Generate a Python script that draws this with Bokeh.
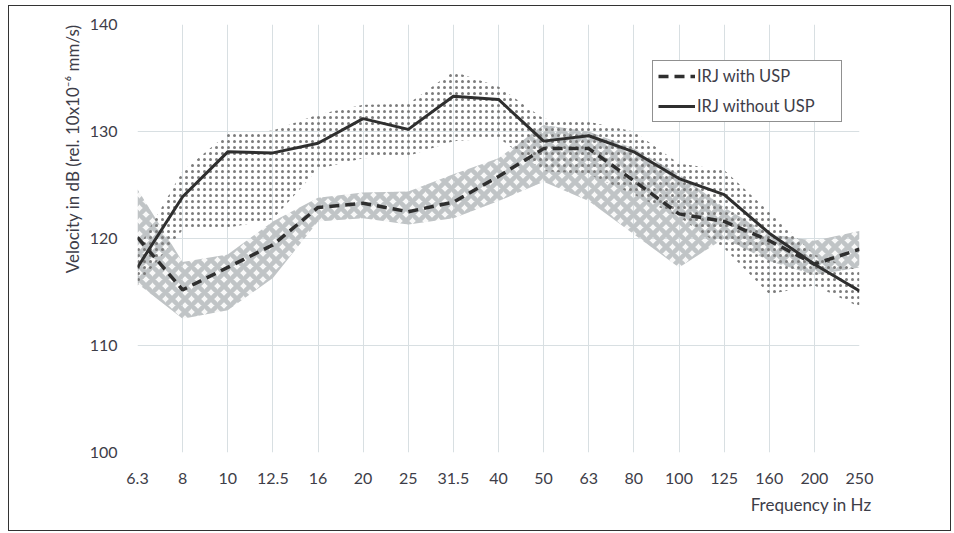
from bokeh.plotting import figure
from bokeh.models import Range1d, FixedTicker, Legend, LegendItem, Title
from bokeh.embed import file_html
from bokeh.resources import INLINE

freqs = ["6.3", "8", "10", "12.5", "16", "20", "25", "31.5", "40", "50",
         "63", "80", "100", "125", "160", "200", "250"]

with_usp = [120.1, 115.2, 117.3, 119.4, 122.9, 123.3, 122.5, 123.4, 125.8, 128.4,
            128.4, 125.4, 122.3, 121.6, 119.8, 117.6, 119.0]
without_usp = [117.3, 123.9, 128.1, 128.0, 128.9, 131.2, 130.2, 133.3, 133.0, 129.1,
               129.6, 128.1, 125.6, 124.1, 120.5, 117.6, 115.1]

without_upper = [119.0, 126.3, 129.8, 130.1, 131.6, 132.5, 132.6, 135.6, 134.2, 131.2,
                 130.9, 130.0, 127.0, 126.4, 122.5, 118.5, 117.0]
without_lower = [115.6, 120.8, 121.0, 121.8, 126.5, 127.5, 127.7, 129.1, 129.4, 126.3,
                 126.0, 124.1, 122.0, 119.1, 114.8, 115.6, 113.6]

with_upper = [124.6, 117.8, 118.5, 121.6, 123.8, 124.3, 124.4, 126.0, 127.5, 130.6,
              130.0, 128.4, 126.0, 122.9, 120.4, 119.8, 120.7]
with_lower = [115.8, 112.5, 113.3, 116.3, 121.6, 121.9, 121.3, 121.9, 123.5, 125.3,
              123.5, 120.4, 117.3, 120.0, 117.9, 116.6, 117.3]

y_ticks = [100, 110, 120, 130, 140]

FONT = "Lato"
TXT = "#3d3d48"

x = list(range(len(freqs)))

p = figure(width=943, height=526, x_range=Range1d(0, len(freqs) - 1), y_range=Range1d(100, 140),
           output_backend="svg", toolbar_location=None,
           min_border_left=128, min_border_right=93, min_border_top=18, min_border_bottom=80)
p.margin = (5, 0, 0, 8)
p.outline_line_color = None
p.background_fill_color = "white"
p.border_fill_color = "white"
p.styles = {"border": "1.5px solid #333333", "box-sizing": "border-box"}

# grid
p.xgrid.ticker = FixedTicker(ticks=x)
p.ygrid.ticker = FixedTicker(ticks=y_ticks)
for g in (p.xgrid, p.ygrid):
    g.grid_line_color = "#d8dfe2"
    g.grid_line_width = 1

# axes
p.xaxis.ticker = FixedTicker(ticks=x)
p.xaxis.major_label_overrides = {i: f for i, f in enumerate(freqs)}
p.yaxis.ticker = FixedTicker(ticks=y_ticks)
for ax in (p.xaxis, p.yaxis):
    ax.axis_line_color = None
    ax.major_tick_line_color = None
    ax.minor_tick_line_color = None
    ax.major_label_text_font = FONT
    ax.major_label_text_font_size = "16px"
    ax.major_label_text_color = TXT
p.xaxis.major_label_standoff = 14
p.yaxis.major_label_standoff = 14

yt = Title(text="Velocity in dB (rel. 10x10\u207b\u2076 mm/s)", align="right", text_font=FONT,
           text_font_size="17px", text_color=TXT, text_font_style="normal", standoff=8, offset=0)
p.add_layout(yt, "left")

xt = Title(text="Frequency in Hz", align="right", text_font=FONT, text_font_size="17px",
           text_color=TXT, text_font_style="normal", offset=-12)
p.add_layout(xt, "below")

# bands
p.varea(x=x, y1=with_lower, y2=with_upper, fill_color="#c3c7c9", fill_alpha=0.12,
        hatch_pattern="diagonal_cross", hatch_color="#c0c4c6", hatch_weight=4.5, hatch_scale=13)
p.varea(x=x, y1=without_lower, y2=without_upper, fill_alpha=0,
        hatch_pattern="dot", hatch_color="#7c7c7c", hatch_weight=3, hatch_scale=6)

# lines
r_with = p.line(x, with_usp, line_color="#2f2f2f", line_width=3.5, line_dash="10 6")
r_without = p.line(x, without_usp, line_color="#2f2f2f", line_width=3)

legend = Legend(items=[LegendItem(label="IRJ with USP", renderers=[r_with]),
                       LegendItem(label="IRJ without USP", renderers=[r_without])],
                location=(515, 330))
legend.label_text_font = FONT
legend.label_text_font_size = "16.5px"
legend.label_text_color = TXT
legend.border_line_color = "#222222"
legend.border_line_width = 1
legend.glyph_width = 37
legend.glyph_height = 20
legend.label_height = 20
legend.label_width = 139
legend.label_standoff = 2
legend.spacing = 10
legend.padding = 5
legend.margin = 0
legend.background_fill_alpha = 1
p.add_layout(legend, "center")

open("out.html", "w").write(file_html(p, INLINE))
